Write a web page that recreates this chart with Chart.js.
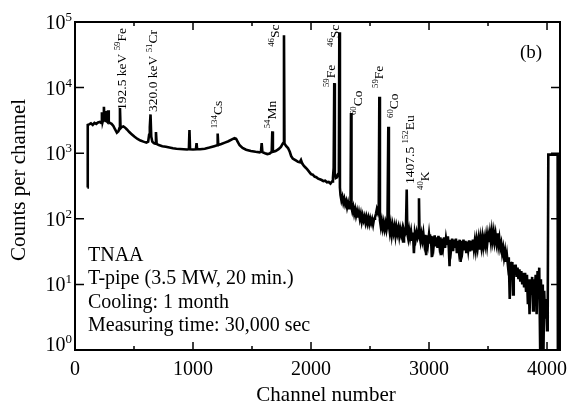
<!DOCTYPE html>
<html>
<head>
<meta charset="utf-8">
<script src="https://cdn.jsdelivr.net/npm/chart.js@4.4.1/dist/chart.umd.min.js"></script>
<style>
  html, body { margin: 0; padding: 0; background: #fff; }
  canvas { display: block; }
</style>
</head>
<body>
<canvas id="spectrumChart" width="573" height="405"></canvas>
<script>
// axis ranges and ticks
const xMin = 0;
const xMax = 4110;
const xMajorTicks = [0, 1000, 2000, 3000, 4000];
const xMinorTicks = [500, 1500, 2500, 3500];
const yDecades = [0, 1, 2, 3, 4, 5];

// spectrum, [channel, counts]
const spectrumLow = [
  [105, 300], [108, 2700], [120, 2750], [135, 2850], [150, 2700], [165, 2900], [180, 2800], [195, 2950], [210, 3000], [222, 2900],
  [228, 4200], [234, 3000], [240, 3300], [245, 5100], [250, 3200], [257, 3100], [262, 4400], [267, 3100], [274, 3000], [280, 4500],
  [286, 3000], [295, 2900], [310, 2800], [325, 2600], [340, 2300], [355, 2050], [368, 2150], [376, 2400], [381, 4900], [386, 2400],
  [395, 2500], [410, 2550], [425, 2450], [440, 2300], [460, 2100], [480, 1950], [505, 1780], [530, 1650], [555, 1560], [580, 1500],
  [605, 1450], [620, 1500], [628, 1900], [634, 2500], [640, 3900], [646, 1800], [655, 1500], [668, 1420], [680, 1400], [686, 2100],
  [692, 1380], [710, 1330], [740, 1280], [770, 1250], [800, 1220], [830, 1190], [860, 1170], [890, 1160], [920, 1150], [950, 1140],
  [965, 1150], [970, 2250], [975, 1150], [1000, 1140], [1025, 1150], [1030, 1420], [1035, 1150]
];

const spectrumMid = [
  [1060, 1150], [1100, 1170], [1140, 1220], [1180, 1280], [1204, 1320], [1209, 2000], [1214, 1330], [1240, 1380], [1270, 1450], [1300, 1520],
  [1330, 1620], [1352, 1700], [1365, 1660], [1378, 1500], [1395, 1320], [1420, 1200], [1450, 1130], [1490, 1080], [1530, 1050], [1565, 1030],
  [1576, 1060], [1582, 1430], [1588, 1040], [1610, 1000], [1630, 970], [1650, 990], [1667, 1050], [1672, 2150], [1677, 1050], [1700, 1080],
  [1725, 1150], [1745, 1250], [1760, 1400], [1767, 1450], [1771, 63000], [1775, 1400], [1790, 1280], [1805, 1200], [1820, 1050], [1832, 900],
  [1845, 830], [1860, 800], [1875, 770], [1890, 740], [1905, 730], [1915, 790], [1925, 700], [1940, 640], [1955, 600], [1970, 560],
  [1985, 520], [2000, 480], [2015, 470], [2030, 440], [2045, 430], [2060, 410], [2075, 400], [2090, 390], [2105, 375], [2120, 380],
  [2135, 360], [2150, 365], [2165, 345], [2178, 370], [2186, 420], [2192, 600], [2197, 11700], [2202, 500], [2210, 420], [2220, 430],
  [2230, 480], [2236, 600], [2240, 70000], [2245, 300]
];

const spectrumHigh = [
  [2250, 230], [2258, 190], [2266, 215], [2274, 175], [2282, 200], [2290, 165], [2298, 185], [2306, 150], [2314, 175], [2322, 145],
  [2330, 165], [2335, 160], [2339, 4100], [2343, 150], [2350, 130], [2358, 150], [2366, 120], [2374, 140], [2382, 112], [2390, 130],
  [2398, 105], [2406, 125], [2414, 100], [2422, 118], [2430, 92], [2438, 112], [2446, 95], [2454, 108], [2462, 88], [2470, 105],
  [2478, 86], [2486, 102], [2494, 84], [2502, 100], [2510, 86], [2518, 98], [2526, 82], [2534, 100], [2542, 105], [2550, 118],
  [2558, 140], [2566, 125], [2574, 150], [2579, 7250], [2584, 95], [2592, 75], [2600, 92], [2608, 72], [2616, 88], [2624, 70],
  [2632, 85], [2640, 68], [2648, 82], [2655, 2530], [2660, 80], [2668, 62], [2676, 80], [2684, 58], [2692, 78], [2700, 62],
  [2708, 76], [2716, 56], [2724, 74], [2732, 60], [2740, 72], [2748, 55], [2756, 70], [2764, 58], [2772, 68], [2780, 45],
  [2788, 66], [2796, 58], [2804, 64], [2811, 280], [2816, 60], [2824, 50], [2832, 66], [2840, 52], [2848, 64], [2856, 48],
  [2864, 62], [2872, 30], [2880, 60], [2888, 50], [2896, 62], [2904, 52], [2911, 58], [2915, 205], [2920, 55], [2928, 45],
  [2936, 58], [2944, 47], [2952, 60], [2960, 44], [2968, 57], [2976, 28], [2984, 56], [2992, 43]
];

const spectrumTail = [
  [3000, 58], [3008, 42], [3016, 55], [3024, 26], [3032, 54], [3040, 40], [3048, 56], [3056, 38], [3064, 52], [3072, 36],
  [3080, 55], [3088, 40], [3096, 52], [3104, 28], [3112, 50], [3120, 38], [3128, 52], [3136, 36], [3144, 50], [3152, 40],
  [3160, 54], [3168, 35], [3174, 19], [3180, 48], [3188, 36], [3196, 50], [3204, 32], [3212, 48], [3220, 36], [3228, 50],
  [3236, 30], [3244, 46], [3252, 34], [3260, 48], [3268, 22], [3276, 46], [3284, 35], [3292, 48], [3300, 33], [3308, 46],
  [3316, 30], [3324, 45], [3332, 34], [3340, 47], [3348, 32], [3356, 46], [3364, 33], [3372, 48], [3380, 35], [3388, 46],
  [3396, 34], [3404, 47], [3412, 36], [3420, 48], [3428, 34], [3436, 50], [3444, 38], [3452, 52], [3460, 38], [3468, 50],
  [3476, 40], [3484, 54], [3492, 40], [3500, 56], [3508, 44], [3516, 60], [3524, 45], [3532, 64], [3540, 47], [3548, 62],
  [3556, 45], [3564, 58], [3572, 44], [3580, 60], [3588, 40], [3596, 50], [3604, 36], [3612, 42], [3620, 30], [3628, 36],
  [3636, 26], [3644, 32], [3652, 22], [3660, 28], [3668, 20], [3676, 26], [3684, 6], [3690, 22], [3698, 17], [3706, 22],
  [3712, 7], [3718, 20], [3726, 14], [3734, 20], [3742, 13], [3750, 18], [3758, 12], [3766, 17], [3774, 11], [3782, 16],
  [3790, 10], [3798, 15], [3806, 9], [3814, 15], [3822, 8], [3830, 14], [3838, 5], [3844, 12], [3852, 3.5], [3858, 12],
  [3866, 7], [3874, 13], [3882, 4], [3888, 12], [3896, 8], [3904, 14], [3912, 3.5], [3920, 16], [3928, 6], [3934, 18],
  [3942, 1], [3948, 12], [3956, 4], [3964, 10], [3970, 1], [3976, 8], [3984, 3], [3992, 6], [4000, 2], [4006, 4],
  [4011, 950], [4090, 950], [4092, 1]
];

// peak labels: anchor = bottom of the rotated text, in channel / counts
const peakLabels = [
  { ch: 394, cnt: 4560, parts: [["192.5 keV ", 0], ["59", 1], ["Fe", 0]] },
  { ch: 661, cnt: 4250, parts: [["320.0 keV ", 0], ["51", 1], ["Cr", 0]] },
  { ch: 1212, cnt: 2400, parts: [["134", 1], ["Cs", 0]] },
  { ch: 1665, cnt: 2400, parts: [["54", 1], ["Mn", 0]] },
  { ch: 1695, cnt: 41900, parts: [["46", 1], ["Sc", 0]] },
  { ch: 2165, cnt: 10200, parts: [["59", 1], ["Fe", 0]] },
  { ch: 2198, cnt: 41600, parts: [["46", 1], ["Sc", 0]] },
  { ch: 2394, cnt: 3820, parts: [["60", 1], ["Co", 0]] },
  { ch: 2576, cnt: 9860, parts: [["59", 1], ["Fe", 0]] },
  { ch: 2703, cnt: 3440, parts: [["60", 1], ["Co", 0]] },
  { ch: 2831, cnt: 340, parts: [["1407.5 ", 0], ["152", 1], ["Eu", 0]] },
  { ch: 2958, cnt: 275, parts: [["40", 1], ["K", 0]] }
];

const infoLines = ["TNAA", "T-pipe (3.5 MW, 20 min.)", "Cooling: 1 month", "Measuring time: 30,000 sec"];
const panelTag = "(b)";
const xTitle = "Channel number";
const yTitle = "Counts per channel";

const FONT = '"Liberation Serif", "Times New Roman", serif';

// text drawn bottom-to-top, superscripts shifted left
function drawRotated(ctx, x, y, parts, size) {
  ctx.save();
  ctx.translate(x, y);
  ctx.rotate(-Math.PI / 2);
  ctx.textAlign = "left";
  ctx.textBaseline = "alphabetic";
  let pos = 0;
  parts.forEach(([text, sup]) => {
    const s = sup ? size * 0.65 : size;
    ctx.font = s + "px " + FONT;
    ctx.fillText(text, pos, size * 0.33 - (sup ? size * 0.42 : 0));
    pos += ctx.measureText(text).width;
  });
  ctx.restore();
}

const framePlugin = {
  id: "framePlugin",
  afterDraw(chart) {
    const { ctx, chartArea: a, scales } = chart;
    const x = scales.x, y = scales.y;
    ctx.save();
    ctx.strokeStyle = "#000";
    ctx.fillStyle = "#000";

    // frame
    ctx.lineWidth = 2;
    ctx.strokeRect(a.left, a.top, a.right - a.left, a.bottom - a.top);

    // inward ticks
    ctx.lineWidth = 1.5;
    ctx.beginPath();
    xMajorTicks.forEach(v => {
      const px = x.getPixelForValue(v);
      ctx.moveTo(px, a.bottom); ctx.lineTo(px, a.bottom - 8);
      ctx.moveTo(px, a.top); ctx.lineTo(px, a.top + 8);
    });
    xMinorTicks.forEach(v => {
      const px = x.getPixelForValue(v);
      ctx.moveTo(px, a.bottom); ctx.lineTo(px, a.bottom - 4);
      ctx.moveTo(px, a.top); ctx.lineTo(px, a.top + 4);
    });
    yDecades.forEach(d => {
      const py = y.getPixelForValue(Math.pow(10, d));
      ctx.moveTo(a.left, py); ctx.lineTo(a.left + 9, py);
      ctx.moveTo(a.right, py); ctx.lineTo(a.right - 9, py);
    });
    ctx.stroke();

    // x tick labels
    ctx.font = "20px " + FONT;
    ctx.textAlign = "center";
    ctx.textBaseline = "alphabetic";
    xMajorTicks.forEach(v => {
      ctx.fillText(String(v), x.getPixelForValue(v), a.bottom + 25);
    });

    // y tick labels 10^n
    ctx.textAlign = "left";
    yDecades.forEach(d => {
      const py = y.getPixelForValue(Math.pow(10, d)) - (d === 0 ? 6 : 0);
      ctx.font = "13px " + FONT;
      const supW = ctx.measureText(String(d)).width;
      ctx.font = "20px " + FONT;
      const mainW = ctx.measureText("10").width;
      const left = a.left - 3 - supW - mainW;
      ctx.fillText("10", left, py + 7);
      ctx.font = "13px " + FONT;
      ctx.fillText(String(d), left + mainW, py - 1);
    });

    // axis titles
    ctx.font = "21px " + FONT;
    ctx.textAlign = "center";
    ctx.fillText(xTitle, 326, a.bottom + 51);
    ctx.save();
    ctx.translate(19, 180);
    ctx.rotate(-Math.PI / 2);
    ctx.textBaseline = "middle";
    ctx.fillText(yTitle, 0, 0);
    ctx.restore();

    // panel tag
    ctx.font = "19px " + FONT;
    ctx.textBaseline = "middle";
    ctx.fillText(panelTag, 531, 53);

    // run info
    ctx.font = "20px " + FONT;
    ctx.textAlign = "left";
    ctx.textBaseline = "alphabetic";
    infoLines.forEach((line, i) => {
      ctx.fillText(line, 88, 261 + i * 23.3);
    });

    // peak labels
    peakLabels.forEach(lab => {
      drawRotated(ctx, x.getPixelForValue(lab.ch), y.getPixelForValue(lab.cnt), lab.parts, 13.5);
    });

    ctx.restore();
  }
};

const spectrum = [...spectrumLow, ...spectrumMid, ...spectrumHigh, ...spectrumTail]
  .map(([ch, cnt]) => ({ x: ch, y: cnt }));

const ctx = document.getElementById("spectrumChart").getContext("2d");
new Chart(ctx, {
  type: "line",
  data: {
    datasets: [
      {
        label: "Counts",
        data: spectrum,
        borderColor: "#000",
        borderWidth: 2.6,
        pointRadius: 0,
        tension: 0,
        fill: false,
      },
    ],
  },
  options: {
    responsive: false,
    animation: false,
    devicePixelRatio: 1,
    layout: { padding: { left: 75, right: 13, top: 22, bottom: 55 } },
    scales: {
      x: { type: "linear", min: xMin, max: xMax, display: false },
      y: { type: "logarithmic", min: 1, max: 100000, display: false },
    },
    plugins: {
      legend: { display: false },
      tooltip: { enabled: false },
    },
  },
  plugins: [framePlugin],
});
</script>
</body>
</html>
